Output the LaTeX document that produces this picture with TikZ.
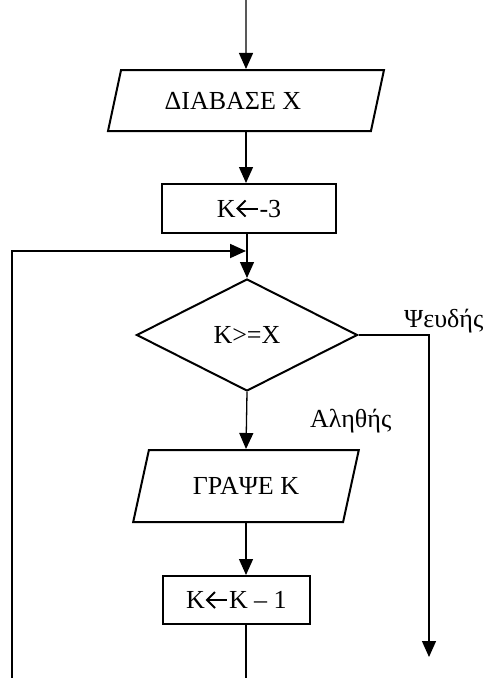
\documentclass[tikz,border=0pt]{standalone}
\usepackage{fontspec}
\setmainfont{Liberation Serif}
\usetikzlibrary{shapes.geometric,arrows.meta}
\begin{document}
\begin{tikzpicture}[x=1pt,y=-1pt,
  every node/.style={font=\fontsize{26}{30}\selectfont, inner sep=0pt},
  shp/.style={draw, line width=2pt},
  iobox/.style={shp, trapezium, trapezium stretches=true},
  procbox/.style={shp, rectangle},
  decbox/.style={shp, diamond},
  conn/.style={line width=1.3pt},
  tip/.style={-{Triangle[length=16pt,width=14pt]}},
  arr/.style={conn, tip},
  heavy/.style={line width=1.8pt},
  lbl/.style={anchor=base west}
]
\useasboundingbox (0,0) rectangle (487,678);
\newcommand{\myarrow}{\hspace{1pt}\tikz[x=1pt,y=1pt,baseline=0pt]{\draw[line width=2pt,line join=miter] (9,16.5)--(1,8.5)--(9,0.5); \draw[line width=2pt] (1,8.5)--(21,8.5);}\hspace{1pt}}

\node[iobox, trapezium left angle=63.8, trapezium right angle=116.2,
      minimum width=276pt, minimum height=61pt] (p1) at (246,100.5) {ΔΙΑΒΑΣΕ Χ\hspace*{26pt}};
\node[procbox, minimum width=174pt, minimum height=49pt] (b1) at (249,208.5) {K\myarrow-3};
\node[decbox, minimum width=221pt, minimum height=112pt] (dia) at (247,335) {K>=X};
\node[iobox, trapezium left angle=63.4, trapezium right angle=116.6,
      minimum width=226pt, minimum height=72pt] (p2) at (246,486) {ΓΡΑΨΕ Κ};
\node[procbox, minimum width=147pt, minimum height=48pt] (b2) at (236.5,600) {K\myarrow K – 1};

\node[lbl] (lf) at (404,327) {Ψευδής};
\node[lbl] (lt) at (310,427) {Αληθής};

\coordinate (top) at (246,0);
\coordinate (join) at (246,251);
\coordinate (loopbot) at (12,678);
\coordinate (botend) at (246,678);
\coordinate (falseend) at (429,657);

\draw[arr] (top) -- (p1.north);
\draw[arr] (p1.south) -- (p1.south |- b1.north);
\draw[arr] (b1.south -| dia.north) -- (dia.north);
\draw[heavy, tip] (loopbot) -- (loopbot |- join) -- (join);
\draw[arr] (dia.south) -- (p2.north);
\draw[arr] (p2.south) -- (p2.south |- b2.north);
\draw[heavy] (b2.south -| botend) -- (botend);
\draw[arr] (dia.east) -| (falseend);
\end{tikzpicture}
\end{document}
